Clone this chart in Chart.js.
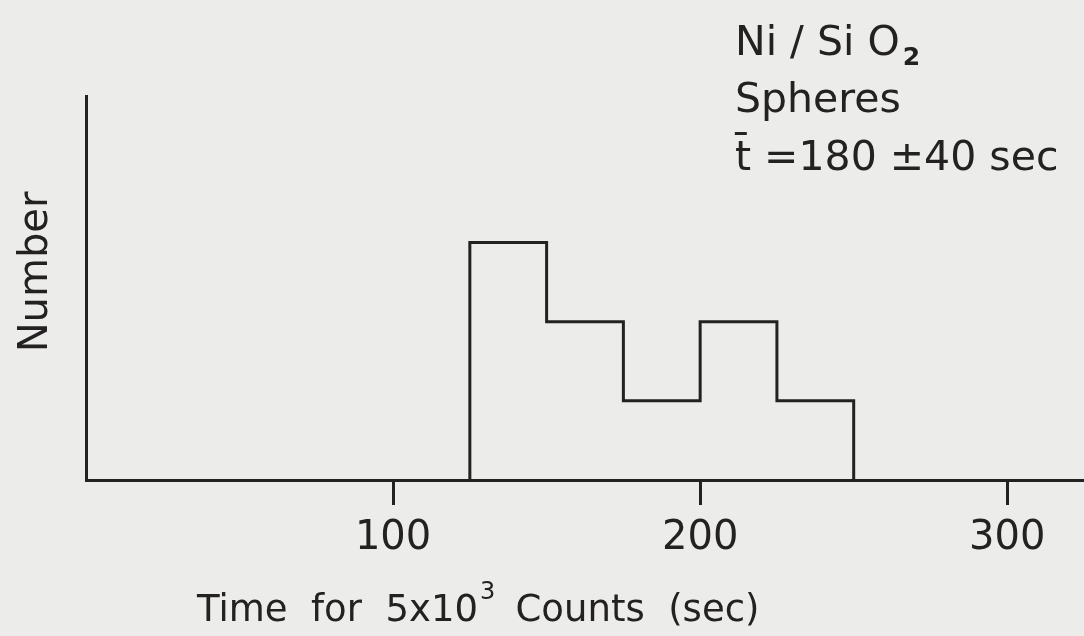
<!DOCTYPE html>
<html>
<head>
<meta charset="utf-8">
<script src="https://cdn.jsdelivr.net/npm/chart.js@4.4.1/dist/chart.umd.min.js"></script>
<style>
  html, body { margin: 0; padding: 0; background: #ececea; }
  #wrap { width: 1084px; height: 636px; }
</style>
</head>
<body>
<div id="wrap"><canvas id="myChart" width="1084" height="636"></canvas></div>
<script>
// histogram bins (sec) and counts
const binEdges = [125, 150, 175, 200, 225, 250];
const counts = [3, 2, 1, 2, 1];
const xTicks = [100, 200, 300];

const ink = '#232121';
const font = '"DejaVu Sans", sans-serif';

// outline of the histogram as a stepped line
function outline() {
  const pts = [{x: binEdges[0], y: 0}];
  counts.forEach((c, i) => pts.push({x: binEdges[i], y: c}));
  pts.push({x: binEdges[binEdges.length - 1], y: 0});
  return pts;
}

// labels drawn onto the canvas
const textPlugin = {
  id: 'texts',
  afterDraw(chart) {
    const ctx = chart.ctx;
    ctx.save();
    ctx.fillStyle = ink;
    ctx.textBaseline = 'alphabetic';
    ctx.textAlign = 'left';

    // legend block, top right
    ctx.font = '41px ' + font;
    ctx.fillText('Ni / Si O', 735, 55);
    let w = ctx.measureText('Ni / Si O').width;
    ctx.font = 'bold 25px ' + font;
    ctx.fillText('2', 735 + w + 3, 65);
    ctx.font = '41px ' + font;
    ctx.fillText('Spheres', 735, 112);
    ctx.fillText('t\u0304 =180 \u00b140 sec', 735, 170);

    // x axis title
    ctx.font = '37px ' + font;
    const a = 'Time  for  5x10';
    ctx.fillText(a, 197, 621);
    w = ctx.measureText(a).width;
    ctx.font = '24px ' + font;
    ctx.fillText('3', 197 + w + 2, 599);
    ctx.font = '37px ' + font;
    ctx.fillText('  Counts  (sec)', 197 + w + 14, 621);

    // y axis title
    ctx.translate(47, 272);
    ctx.rotate(-Math.PI / 2);
    ctx.textAlign = 'center';
    ctx.font = '40px ' + font;
    ctx.fillText('Number', 0, 0);
    ctx.restore();
  }
};

const ctx = document.getElementById('myChart').getContext('2d');
const myChart = new Chart(ctx, {
  type: 'line',
  data: {
    datasets: [{
      data: outline(),
      stepped: 'before',
      fill: false,
      borderColor: ink,
      borderWidth: 3,
      pointRadius: 0
    }]
  },
  options: {
    responsive: false,
    animation: false,
    events: [],
    layout: { padding: { left: 86, top: 96, right: 0, bottom: 63 } },
    plugins: { legend: { display: false }, tooltip: { enabled: false } },
    scales: {
      x: {
        type: 'linear',
        min: 0,
        max: 325,
        afterBuildTicks: (axis) => { axis.ticks = xTicks.map(v => ({value: v})); },
        grid: {
          drawOnChartArea: false,
          drawTicks: true,
          tickLength: 25,
          tickWidth: 3,
          tickColor: ink
        },
        border: { display: true, color: ink, width: 3 },
        ticks: {
          color: ink,
          padding: 10,
          font: { family: font, size: 40 }
        }
      },
      y: {
        min: 0,
        max: 4.85,
        grid: { display: false, drawTicks: false },
        border: { display: true, color: ink, width: 3 },
        ticks: { display: false }
      }
    }
  },
  plugins: [textPlugin]
});
</script>
</body>
</html>
